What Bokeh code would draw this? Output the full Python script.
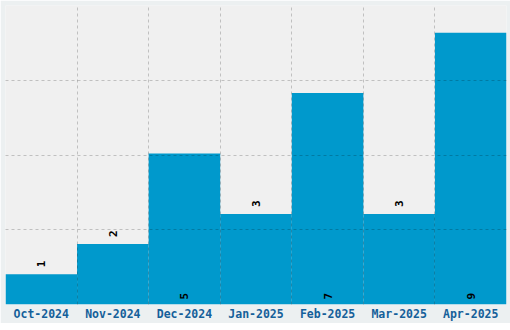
import math
from bokeh.plotting import figure
from bokeh.models import ColumnDataSource, FixedTicker, Range1d
from bokeh.core.properties import value
from bokeh.embed import file_html
from bokeh.resources import INLINE

months = ["Oct-2024", "Nov-2024", "Dec-2024", "Jan-2025", "Feb-2025", "Mar-2025", "Apr-2025"]
counts = [1, 2, 5, 3, 7, 3, 9]

n = len(months)
ymax = max(counts) * 1.1
xs = [i + 0.5 for i in range(n)]

p = figure(width=510, height=330, output_backend="svg", toolbar_location=None,
           x_range=Range1d(0, n), y_range=Range1d(0, ymax),
           frame_width=501, frame_height=299,
           min_border_left=5, min_border_right=4, min_border_top=5, min_border_bottom=0)
p.background_fill_color = "#f0f0f0"
p.border_fill_color = "#ecf0f1"
p.outline_line_color = None

src = ColumnDataSource(dict(x=xs, top=counts, label=[str(c) for c in counts]))
p.vbar(x="x", top="top", bottom=0, width=1.0, source=src,
       fill_color="#0099cc", line_color=None)

inside_x, inside_t, out_x, out_y, out_t = [], [], [], [], []
for xv, c in zip(xs, counts):
    if c > max(counts) / 2:
        inside_x.append(xv); inside_t.append(str(c))
    else:
        out_x.append(xv); out_y.append(c); out_t.append(str(c))

common = dict(angle=math.pi / 2, text_align="left", text_baseline="middle",
              text_font=value("DejaVu Sans Mono"), text_font_style="bold",
              text_font_size="11px", text_color="#000000")
p.text(x=out_x, y=out_y, text=out_t, y_offset=-7, **common)
p.text(x=inside_x, y=[0] * len(inside_x), text=inside_t, y_offset=-5, **common)

p.yaxis.visible = False
p.xaxis.ticker = FixedTicker(ticks=xs)
p.xaxis.major_label_overrides = {xv: m for xv, m in zip(xs, months)}
p.xaxis.axis_line_color = None
p.xaxis.major_tick_line_color = None
p.xaxis.minor_tick_line_color = None
p.xaxis.major_tick_out = 0
p.xaxis.major_tick_in = 0
p.xaxis.major_label_standoff = 2
p.xaxis.major_label_text_font = "DejaVu Sans Mono"
p.xaxis.major_label_text_font_style = "bold"
p.xaxis.major_label_text_font_size = "11.5px"
p.xaxis.major_label_text_color = "#15609a"

p.xgrid.ticker = FixedTicker(ticks=list(range(1, n)))
p.ygrid.ticker = FixedTicker(ticks=[ymax * k / 4 for k in range(1, 4)])
for g in (p.xgrid, p.ygrid):
    g.grid_line_color = "#000000"
    g.grid_line_alpha = 0.2
    g.grid_line_dash = "3 3"
    g.grid_line_width = 1
    g.level = "annotation"

open("out.html", "w").write(file_html(p, INLINE))
